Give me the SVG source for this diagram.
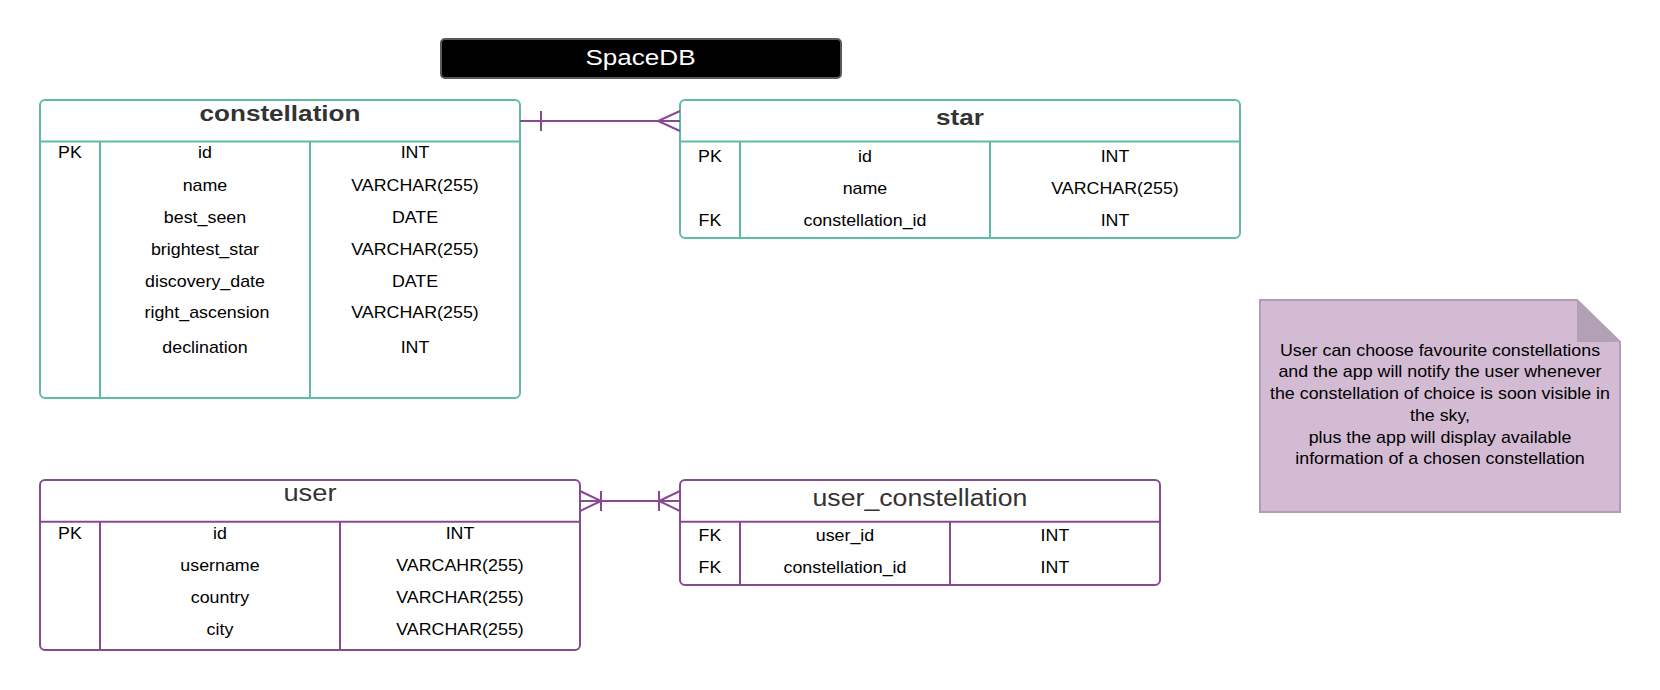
<svg xmlns="http://www.w3.org/2000/svg" width="1660" height="690" viewBox="0 0 1660 690">
<style>
text { font-family: "Liberation Sans", Arial, sans-serif; text-anchor: middle; transform-box: fill-box; transform-origin: center; transform: scaleX(1.16); }
.b { font-size: 16px; fill: #000; transform: scaleX(1.115); }
.tb { font-size: 22.5px; font-weight: bold; fill: #333; }
.tn { font-size: 23.5px; fill: #333; }
.teal { fill: #fff; stroke: #5fbba6; stroke-width: 2; }
.tl { stroke: #5fbba6; stroke-width: 2; }
.pur { fill: #fff; stroke: #874a91; stroke-width: 2; }
.pl { stroke: #874a91; stroke-width: 2; }
.conn { stroke: #874a91; stroke-width: 2; fill: none; }
</style>
<rect width="1660" height="690" fill="#fff"/>

<g id="title">
<rect x="441" y="39" width="400" height="39" rx="4" fill="#000" stroke="#5a5a5a" stroke-width="2"/>
<text x="640.5" y="65" style="font-size:22.5px;fill:#fff">SpaceDB</text>
</g>

<g id="constellation">
<rect class="teal" x="40" y="100" width="480" height="298" rx="5"/>
<line class="tl" x1="40" y1="141.5" x2="520" y2="141.5"/>
<line class="tl" x1="100" y1="141.5" x2="100" y2="398"/>
<line class="tl" x1="310" y1="141.5" x2="310" y2="398"/>
<text class="tb" x="280" y="121">constellation</text>
<text class="b" x="70" y="158">PK</text>
<text class="b" x="205" y="158">id</text>
<text class="b" x="415" y="158">INT</text>
<text class="b" x="205" y="191.5">name</text>
<text class="b" x="415" y="191.5">VARCHAR(255)</text>
<text class="b" x="205" y="223.5">best_seen</text>
<text class="b" x="415" y="223.5">DATE</text>
<text class="b" x="205" y="255">brightest_star</text>
<text class="b" x="415" y="255">VARCHAR(255)</text>
<text class="b" x="205" y="287">discovery_date</text>
<text class="b" x="415" y="287">DATE</text>
<text class="b" x="207" y="318.5">right_ascension</text>
<text class="b" x="415" y="318.5">VARCHAR(255)</text>
<text class="b" x="205" y="353.5">declination</text>
<text class="b" x="415" y="353.5">INT</text>
</g>

<g id="star">
<rect class="teal" x="680" y="100" width="560" height="138" rx="5"/>
<line class="tl" x1="680" y1="141.5" x2="1240" y2="141.5"/>
<line class="tl" x1="740" y1="141.5" x2="740" y2="238"/>
<line class="tl" x1="990" y1="141.5" x2="990" y2="238"/>
<text class="tb" x="960" y="125.5">star</text>
<text class="b" x="710" y="162">PK</text>
<text class="b" x="865" y="162">id</text>
<text class="b" x="1115" y="162">INT</text>
<text class="b" x="865" y="194">name</text>
<text class="b" x="1115" y="194">VARCHAR(255)</text>
<text class="b" x="710" y="226">FK</text>
<text class="b" x="865" y="226">constellation_id</text>
<text class="b" x="1115" y="226">INT</text>
</g>

<g id="user">
<rect class="pur" x="40" y="480" width="540" height="170" rx="5"/>
<line class="pl" x1="40" y1="521.7" x2="580" y2="521.7"/>
<line class="pl" x1="100" y1="521.7" x2="100" y2="650"/>
<line class="pl" x1="340" y1="521.7" x2="340" y2="650"/>
<text class="tn" x="310" y="501">user</text>
<text class="b" x="70" y="539.5">PK</text>
<text class="b" x="220" y="539.5">id</text>
<text class="b" x="460" y="539.5">INT</text>
<text class="b" x="220" y="571">username</text>
<text class="b" x="460" y="571">VARCAHR(255)</text>
<text class="b" x="220" y="603">country</text>
<text class="b" x="460" y="603">VARCHAR(255)</text>
<text class="b" x="220" y="635">city</text>
<text class="b" x="460" y="635">VARCHAR(255)</text>
</g>

<g id="user_constellation">
<rect class="pur" x="680" y="480" width="480" height="105" rx="5"/>
<line class="pl" x1="680" y1="521.7" x2="1160" y2="521.7"/>
<line class="pl" x1="740" y1="521.7" x2="740" y2="585"/>
<line class="pl" x1="950" y1="521.7" x2="950" y2="585"/>
<text class="tn" x="920" y="506" style="font-size:23px">user_constellation</text>
<text class="b" x="710" y="541.5">FK</text>
<text class="b" x="845" y="541.5">user_id</text>
<text class="b" x="1055" y="541.5">INT</text>
<text class="b" x="710" y="573.5">FK</text>
<text class="b" x="845" y="573.5">constellation_id</text>
<text class="b" x="1055" y="573.5">INT</text>
</g>

<g id="note">
<polygon points="1260,300 1577,300 1620,342 1620,512 1260,512" fill="#d3bbd4" stroke="#b39cb6" stroke-width="2"/>
<polygon points="1577,300 1577,342 1620,342" fill="#b39fb6"/>
<text class="b" x="1440" y="355.7">User can choose favourite constellations</text>
<text class="b" x="1440" y="377.5">and the app will notify the user whenever</text>
<text class="b" x="1440" y="399.3">the constellation of choice is soon visible in</text>
<text class="b" x="1440" y="421">the sky,</text>
<text class="b" x="1440" y="442.7">plus the app will display available</text>
<text class="b" x="1440" y="464.3">information of a chosen constellation</text>
</g>

<g id="connectors">
<path class="conn" d="M520 121 H680 M541 111 V131 M680 111 L658 121 L680 131"/>
<path class="conn" d="M580 501 H680 M580 491 L601 501 L580 511 M601 491 V511 M680 491 L659 501 L680 511 M659 491 V511"/>
</g>
</svg>
